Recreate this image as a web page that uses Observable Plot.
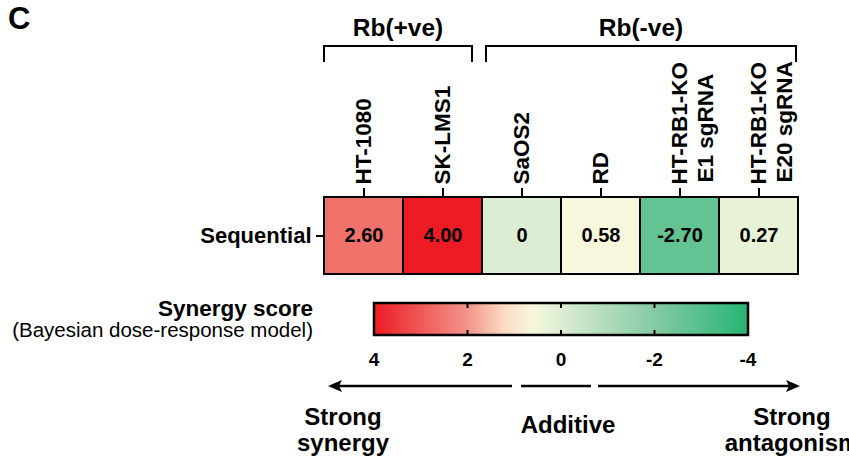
<!DOCTYPE html>
<html>
<head>
<meta charset="utf-8">
<script src="https://cdn.jsdelivr.net/npm/d3@7"></script>
<script src="https://cdn.jsdelivr.net/npm/@observablehq/plot@0.6"></script>
<style>
  html, body { margin: 0; padding: 0; background: #fff; }
  svg { display: block; }
</style>
</head>
<body>
<div id="chart"></div>
<script>
// ---- data ----
const cellLines = ["HT-1080", "SK-LMS1", "SaOS2", "RD", "HT-RB1-KO E1 sgRNA", "HT-RB1-KO E20 sgRNA"];
const lineTitles = ["HT-1080", "SK-LMS1", "SaOS2", "RD", "HT-RB1-KO", "HT-RB1-KO"];
const lineSubtitles = ["", "", "", "", "E1 sgRNA", "E20 sgRNA"];
const rbGroup = ["Rb(+ve)", "Rb(+ve)", "Rb(-ve)", "Rb(-ve)", "Rb(-ve)", "Rb(-ve)"];
const scores = [2.60, 4.00, 0, 0.58, -2.70, 0.27];
const rowLabel = "Sequential";
const legendTicks = [4, 2, 0, -2, -4];
const colorStops = [-4, -2, 0, 0.6, 1.2, 2, 4];
const colorRange = ["#27b473", "#84cba3", "#dcedd3", "#f7f7dc", "#fcdcc4", "#f3958a", "#ed1c24"];
const legendTitle = "Synergy score";
const legendSubtitle = "(Bayesian dose-response model)";

const data = cellLines.map((c, i) => ({
  line: c, title: lineTitles[i], sub: lineSubtitles[i], group: rbGroup[i],
  row: rowLabel, score: scores[i]
}));
const fmt = v => v === 0 ? "0" : v.toFixed(2);
const FONT = "'Liberation Sans', Arial, Helvetica, sans-serif";

const W = 849, H = 476;
const plot = Plot.plot({
  width: W, height: H,
  marginLeft: 323, marginRight: 50, marginTop: 197, marginBottom: 202,
  style: {fontFamily: FONT, color: "black", background: "white", overflow: "visible"},
  x: {type: "band", domain: cellLines, padding: 0},
  y: {type: "band", domain: [rowLabel], padding: 0},
  color: {type: "linear", domain: colorStops, range: colorRange, interpolate: "rgb", clamp: true},
  marks: [
    Plot.cell(data, {x: "line", y: "row", fill: "score", stroke: "black", strokeWidth: 2}),
    Plot.text(data, {x: "line", y: "row", text: d => fmt(d.score), fontSize: 20, fontWeight: "bold", fill: "black"}),
    Plot.axisX({anchor: "top", tickSize: 10, tickFormat: () => "", strokeWidth: 2, label: null}),
    Plot.axisY({anchor: "left", tickSize: 7, tickPadding: 5, fontSize: 22, fontWeight: "bold", strokeWidth: 2, label: null}),
    Plot.text(data, {x: "line", frameAnchor: "top", dy: -13, text: "title", rotate: -90,
      textAnchor: "start", lineAnchor: "middle", fontSize: 22.5, fontWeight: "bold", fill: "black"}),
    Plot.text(data.filter(d => d.sub), {x: "line", frameAnchor: "top", dy: -15, dx: 26, text: "sub", rotate: -90,
      textAnchor: "start", lineAnchor: "middle", fontSize: 22.5, fontWeight: "bold", fill: "black"})
  ]
});
document.getElementById("chart").appendChild(plot);

// ---- annotations drawn with d3 using the plot's own scales ----
const svg = d3.select(plot);
const xs = plot.scale("x");
const bw = xs.bandwidth;
const X = v => xs.apply(v);
const addText = (x, y, s, size, anchor, bold = true) =>
  svg.append("text").attr("x", x).attr("y", y).attr("text-anchor", anchor)
    .attr("font-size", size).attr("font-weight", bold ? "bold" : "normal")
    .attr("font-family", FONT).attr("fill", "black").text(s);

// panel letter
addText(8, 29, "C", 31, "start");

// group brackets
const groups = d3.groups(data, d => d.group);
const bracketInset = {"Rb(+ve)": [0, 10], "Rb(-ve)": [4, 2]};
groups.forEach(([g, rows]) => {
  const x1 = X(rows[0].line) + bracketInset[g][0];
  const x2 = X(rows[rows.length - 1].line) + bw - bracketInset[g][1];
  svg.append("path").attr("d", `M${x1},62V46H${x2}V62`)
    .attr("fill", "none").attr("stroke", "black").attr("stroke-width", 2);
  addText((x1 + x2) / 2, 36, g, 24.5, "middle");
});

// color bar legend
const color = plot.scale("color");
const lx = d3.scaleLinear().domain([4, -4]).range([374, 748]);
const barTop = 303, barBot = 335;
const defs = svg.append("defs");
const grad = defs.append("linearGradient").attr("id", "synergyGrad")
  .attr("x1", "0%").attr("x2", "100%").attr("y1", "0%").attr("y2", "0%");
const nStops = 40;
d3.range(nStops + 1).forEach(i => {
  const v = 4 - 8 * i / nStops;
  grad.append("stop").attr("offset", `${100 * i / nStops}%`).attr("stop-color", color.apply(v));
});
svg.append("rect").attr("x", lx(4)).attr("y", barTop).attr("width", lx(-4) - lx(4)).attr("height", barBot - barTop)
  .attr("fill", "url(#synergyGrad)").attr("stroke", "black").attr("stroke-width", 2.5);
legendTicks.forEach(t => {
  if (t !== 4 && t !== -4) {
    svg.append("line").attr("x1", lx(t)).attr("x2", lx(t)).attr("y1", barTop).attr("y2", barTop + 5)
      .attr("stroke", "black").attr("stroke-width", 2);
    svg.append("line").attr("x1", lx(t)).attr("x2", lx(t)).attr("y1", barBot - 5).attr("y2", barBot)
      .attr("stroke", "black").attr("stroke-width", 2);
  }
  addText(lx(t), 366, String(t), 19, "middle");
});
addText(313, 316, legendTitle, 22.5, "end");
addText(313, 337, legendSubtitle, 20.5, "end", false);

// arrow
const ay = 386;
[[335, 512], [521, 591], [598, 793]].forEach(([a, b]) => {
  svg.append("line").attr("x1", a).attr("x2", b).attr("y1", ay).attr("y2", ay)
    .attr("stroke", "black").attr("stroke-width", 2.4);
});
svg.append("path").attr("d", `M328,${ay}L342,${ay - 6}L339,${ay}L342,${ay + 6}Z`).attr("fill", "black");
svg.append("path").attr("d", `M800,${ay}L786,${ay - 6}L789,${ay}L786,${ay + 6}Z`).attr("fill", "black");

// scale description labels
const desc = [
  {x: 343, lines: ["Strong", "synergy"], y: 425},
  {x: 568, lines: ["Additive"], y: 433},
  {x: 792, lines: ["Strong", "antagonism"], y: 425}
];
desc.forEach(d => {
  d.lines.forEach((s, i) => addText(d.x, d.y + i * 26, s, 24, "middle"));
});
</script>
</body>
</html>
